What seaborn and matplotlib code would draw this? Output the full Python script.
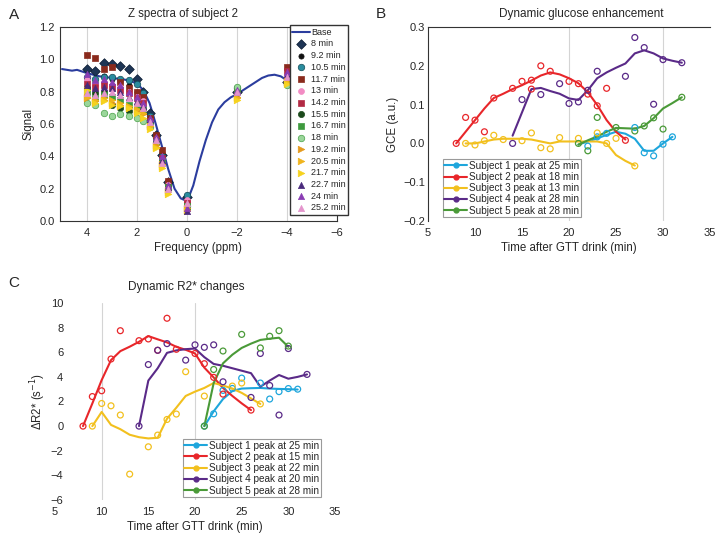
import matplotlib
matplotlib.use("Agg")
import matplotlib.pyplot as plt
from matplotlib.lines import Line2D
import seaborn as sns

# ---------------- Panel A data: Z spectra of subject 2 ----------------
base_freq = [5.0, 4.8, 4.6, 4.4, 4.2, 4.0, 3.75, 3.5, 3.25, 3.0, 2.75, 2.5, 2.25, 2.0,
             1.75, 1.5, 1.25, 1.0, 0.75, 0.5, 0.25, 0.1, 0.0, -0.1, -0.25, -0.5, -0.75,
             -1.0, -1.25, -1.5, -1.75, -2.0, -2.25, -2.5, -2.75, -3.0, -3.25, -3.5,
             -3.75, -4.0, -4.25, -4.5]
base_sig = [0.94, 0.935, 0.93, 0.935, 0.925, 0.915, 0.905, 0.895, 0.89, 0.885, 0.88, 0.875,
            0.865, 0.85, 0.81, 0.73, 0.60, 0.46, 0.32, 0.20, 0.14, 0.13, 0.135, 0.16, 0.22,
            0.37, 0.50, 0.61, 0.69, 0.735, 0.765, 0.785, 0.81, 0.835, 0.86, 0.885, 0.90,
            0.905, 0.895, 0.87, 0.86, 0.86]

a_freq = [4.0, 3.67, 3.33, 3.0, 2.67, 2.33, 2.0, 1.75, 1.5, 1.25, 1.0, 0.75, 0.0, -2.0, -4.0]
a_labels = ["8 min", "9.2 min", "10.5 min", "11.7 min", "13 min", "14.2 min", "15.5 min",
            "16.7 min", "18 min", "19.2 min", "20.5 min", "21.7 min", "22.7 min", "24 min",
            "25.2 min"]
sig_8 = [0.94, 0.93, 0.98, 0.97, 0.96, 0.94, 0.88, 0.80, 0.67, 0.53, 0.41, 0.24, 0.15, 0.80, 0.86]
sig_9 = [0.88, 0.86, 0.90, 0.88, 0.86, 0.84, 0.80, 0.76, 0.63, 0.52, 0.42, 0.22, 0.10, 0.81, 0.87]
sig_10 = [0.89, 0.88, 0.89, 0.89, 0.88, 0.87, 0.85, 0.79, 0.65, 0.52, 0.40, 0.23, 0.16, 0.82, 0.85]
sig_11 = [1.03, 1.01, 0.94, 0.95, 0.86, 0.82, 0.80, 0.77, 0.64, 0.53, 0.44, 0.25, 0.12, 0.80, 0.95]
sig_13 = [0.87, 0.84, 0.86, 0.84, 0.83, 0.80, 0.77, 0.74, 0.62, 0.51, 0.38, 0.22, 0.13, 0.79, 0.90]
sig_14 = [0.85, 0.83, 0.84, 0.83, 0.81, 0.79, 0.76, 0.73, 0.62, 0.50, 0.39, 0.21, 0.11, 0.80, 0.93]
sig_15 = [0.82, 0.79, 0.80, 0.72, 0.70, 0.68, 0.69, 0.69, 0.61, 0.50, 0.37, 0.21, 0.08, 0.79, 0.86]
sig_16 = [0.80, 0.76, 0.78, 0.77, 0.75, 0.72, 0.70, 0.69, 0.60, 0.49, 0.37, 0.21, 0.09, 0.80, 0.85]
sig_18 = [0.73, 0.72, 0.67, 0.65, 0.66, 0.65, 0.64, 0.62, 0.58, 0.48, 0.36, 0.20, 0.09, 0.83, 0.84]
sig_19 = [0.76, 0.74, 0.75, 0.73, 0.72, 0.70, 0.68, 0.66, 0.59, 0.47, 0.35, 0.19, 0.08, 0.77, 0.87]
sig_20 = [0.77, 0.75, 0.76, 0.75, 0.73, 0.71, 0.69, 0.67, 0.59, 0.46, 0.34, 0.18, 0.07, 0.76, 0.86]
sig_21 = [0.81, 0.73, 0.74, 0.72, 0.71, 0.70, 0.67, 0.64, 0.57, 0.45, 0.33, 0.17, 0.06, 0.75, 0.85]
sig_22 = [0.84, 0.82, 0.83, 0.82, 0.80, 0.77, 0.74, 0.71, 0.63, 0.51, 0.38, 0.21, 0.06, 0.80, 0.91]
sig_24 = [0.91, 0.87, 0.88, 0.86, 0.84, 0.80, 0.77, 0.73, 0.64, 0.52, 0.40, 0.22, 0.08, 0.81, 0.92]
sig_25 = [0.79, 0.78, 0.79, 0.80, 0.78, 0.76, 0.73, 0.70, 0.61, 0.50, 0.36, 0.20, 0.11, 0.80, 0.89]
a_series = [sig_8, sig_9, sig_10, sig_11, sig_13, sig_14, sig_15, sig_16, sig_18,
            sig_19, sig_20, sig_21, sig_22, sig_24, sig_25]

# marker styles for each time point
a_markers = ["D", "o", "o", "s", "o", "s", "o", "s", "o", ">", ">", ">", "^", "^", "^"]
a_colors = ["#1e3555", "#111111", "#2a8c9e", "#8a2a1c", "#f28cc4", "#b22a44", "#1c4a1c",
            "#3e9a3e", "#9ad69a", "#e59a1c", "#f0b41c", "#f6d21e", "#4a2a7c", "#8a3cb4",
            "#e494cc"]
a_edges = ["#0a1a30", "#111111", "#134b57", "#8a2a1c", "#f28cc4", "#b22a44", "#1c4a1c",
           "#3e9a3e", "#4aa04a", "#e59a1c", "#f0b41c", "#f6d21e", "#4a2a7c", "#8a3cb4",
           "#e494cc"]
a_sizes = [24, 14, 22, 20, 18, 14, 20, 18, 22, 22, 22, 22, 20, 20, 20]

# ---------------- Panel B data: dynamic glucose enhancement ----------------
subj_labels_b = ["Subject 1 peak at 25 min", "Subject 2 peak at 18 min",
                 "Subject 3 peak at 13 min", "Subject 4 peak at 28 min",
                 "Subject 5 peak at 28 min"]
b1_t = [21, 22, 23, 24, 25, 26, 27, 28, 29, 30, 31]
b1_line = [-0.003, 0.005, 0.013, 0.022, 0.03, 0.025, 0.012, -0.019, -0.019, 0.0, 0.017]
b1_pt_t = [22, 23, 24, 27, 28, 29, 30, 31]
b1_pt = [-0.007, 0.017, 0.026, 0.041, -0.024, -0.032, -0.002, 0.017]

b2_t = [8, 9, 10, 11, 12, 13, 14, 15, 16, 17, 18, 19, 20, 21, 22, 23, 24, 25, 26]
b2_line = [0.0, 0.03, 0.06, 0.09, 0.117, 0.128, 0.14, 0.15, 0.162, 0.175, 0.183, 0.178,
           0.168, 0.155, 0.132, 0.099, 0.06, 0.03, 0.01]
b2_pt_t = [8, 9, 10, 11, 12, 14, 15, 16, 16, 17, 18, 20, 21, 22, 23, 24, 26]
b2_pt = [0.0, 0.067, 0.06, 0.03, 0.117, 0.142, 0.16, 0.163, 0.14, 0.2, 0.186, 0.16,
         0.154, 0.127, 0.097, 0.142, 0.008]

b3_t = [9, 10, 11, 12, 13, 14, 15, 16, 17, 18, 19, 20, 21, 22, 23, 24, 25, 26, 27]
b3_line = [0.0, 0.0, 0.005, 0.01, 0.012, 0.012, 0.012, 0.01, 0.005, 0.0, 0.005, 0.005,
           0.005, 0.005, 0.005, 0.0, -0.03, -0.045, -0.057]
b3_pt_t = [9, 10, 11, 12, 13, 15, 16, 17, 18, 19, 21, 23, 24, 25, 27]
b3_pt = [0.0, -0.004, 0.007, 0.021, 0.01, 0.007, 0.027, -0.011, -0.014, 0.015, 0.013,
         0.027, 0.0, 0.013, -0.058]

b4_t = [14, 15, 16, 17, 18, 19, 20, 21, 22, 23, 24, 25, 26, 27, 28, 29, 30, 31, 32]
b4_line = [0.02, 0.08, 0.14, 0.143, 0.135, 0.128, 0.116, 0.112, 0.137, 0.168, 0.183,
           0.195, 0.206, 0.232, 0.24, 0.232, 0.219, 0.213, 0.208]
b4_pt_t = [14, 15, 17, 19, 20, 21, 22, 23, 26, 27, 28, 29, 30, 32]
b4_pt = [0.0, 0.113, 0.126, 0.154, 0.103, 0.107, 0.137, 0.186, 0.173, 0.273, 0.247,
         0.101, 0.216, 0.208]

b5_t = [21, 22, 23, 24, 25, 26, 27, 28, 29, 30, 31, 32]
b5_line = [-0.003, 0.008, 0.018, 0.03, 0.04, 0.039, 0.038, 0.045, 0.065, 0.09, 0.104, 0.119]
b5_pt_t = [21, 22, 23, 25, 27, 28, 29, 30, 32]
b5_pt = [0.0, -0.019, 0.067, 0.041, 0.032, 0.045, 0.066, 0.037, 0.119]

# ---------------- Panel C data: dynamic R2* changes ----------------
subj_labels_c = ["Subject 1 peak at 25 min", "Subject 2 peak at 15 min",
                 "Subject 3 peak at 22 min", "Subject 4 peak at 20 min",
                 "Subject 5 peak at 28 min"]
c1_t = [21, 22, 23, 24, 25, 26, 27, 28, 29, 30, 31]
c1_line = [0.0, 1.2, 2.2, 2.85, 3.05, 3.08, 3.1, 3.05, 3.02, 3.0, 2.97]
c1_pt_t = [21, 22, 23, 24, 25, 27, 28, 29, 30, 31]
c1_pt = [0.0, 1.0, 2.9, 3.06, 3.9, 3.5, 2.2, 2.8, 3.05, 3.0]

c2_t = [8, 9, 10, 11, 12, 13, 14, 15, 16, 17, 18, 19, 20, 21, 22, 23, 24, 25, 26]
c2_line = [0.0, 1.84, 3.74, 5.36, 6.09, 6.45, 6.85, 7.31, 7.05, 6.8, 6.44, 6.2, 5.9,
           4.75, 3.95, 3.1, 2.45, 1.85, 1.3]
c2_pt_t = [8, 9, 10, 11, 12, 14, 15, 16, 17, 18, 20, 21, 22, 23, 26]
c2_pt = [0.0, 2.4, 2.87, 5.45, 7.75, 6.94, 7.08, 6.16, 8.76, 6.24, 5.9, 5.07, 3.96, 2.6, 1.3]

c3_t = [9, 10, 11, 12, 13, 14, 15, 16, 17, 18, 19, 20, 21, 22, 23, 24, 25, 26, 27]
c3_line = [0.0, 1.15, 0.1, -0.25, -0.7, -0.9, -1.0, -0.95, 0.6, 1.5, 2.45, 2.8, 3.1,
           3.5, 3.3, 3.05, 2.7, 2.25, 1.8]
c3_pt_t = [9, 10, 11, 12, 13, 15, 16, 17, 18, 19, 21, 24, 25, 27]
c3_pt = [0.0, 1.84, 1.65, 0.9, -3.9, -1.68, -0.73, 0.54, 0.98, 4.42, 2.44, 3.25, 3.5, 1.8]

c4_t = [14, 15, 16, 17, 18, 19, 20, 21, 22, 23, 24, 25, 26, 27, 28, 29, 30, 31, 32]
c4_line = [0.0, 3.7, 4.7, 5.95, 6.15, 6.25, 6.3, 5.6, 5.05, 4.9, 4.7, 4.5, 4.3, 3.2,
           3.7, 4.15, 3.85, 4.0, 4.2]
c4_pt_t = [14, 15, 16, 17, 19, 20, 21, 22, 23, 26, 27, 28, 29, 30, 32]
c4_pt = [0.0, 5.0, 6.16, 6.7, 5.36, 6.6, 6.4, 6.6, 3.6, 2.33, 5.9, 3.3, 0.9, 6.3, 4.2]

c5_t = [21, 22, 23, 24, 25, 26, 27, 28, 29, 30]
c5_line = [0.0, 3.5, 5.1, 5.8, 6.35, 6.7, 7.0, 7.1, 7.18, 6.44]
c5_pt_t = [21, 22, 23, 25, 27, 28, 29, 30]
c5_pt = [0.0, 4.6, 6.1, 7.45, 6.35, 7.3, 7.75, 6.5]

subj_colors = ["#1ea6dc", "#e8262a", "#f2c01e", "#5a2a88", "#4a9a38"]

# ---------------- styling ----------------
sns.set_theme(style="white")
plt.rcParams["font.family"] = ["Liberation Sans", "DejaVu Sans"]
plt.rcParams["axes.unicode_minus"] = True

fig = plt.figure(figsize=(7.18, 5.34), dpi=100)
grid_col = "#d4d4d4"
spine_col = "#333333"

# ---------------- Panel A ----------------
axA = fig.add_axes([0.0829, 0.5861, 0.3865, 0.3633])
for xg in [4, 2, 0, -2, -4]:
    axA.axvline(xg, color=grid_col, lw=0.8, zorder=0)
sns.lineplot(x=base_freq, y=base_sig, ax=axA, color="#2b3d9e", lw=1.5, sort=False,
             estimator=None, label="Base", zorder=3)
for lab, vals, m, c, ec, s in zip(a_labels, a_series, a_markers, a_colors, a_edges, a_sizes):
    sns.scatterplot(x=a_freq, y=vals, ax=axA, marker=m, color=c, edgecolor=ec, s=s,
                    linewidth=0.5, label=lab, zorder=4)
axA.set_xlim(5.1, -6.0)
axA.set_ylim(0, 1.2)
axA.set_xticks([4, 2, 0, -2, -4, -6])
axA.set_yticks([0, 0.2, 0.4, 0.6, 0.8, 1.0, 1.2])
axA.set_yticklabels(["0.0", "0.2", "0.4", "0.6", "0.8", "1.0", "1.2"])
axA.set_title("Z spectra of subject 2", fontsize=8.3, pad=7, x=0.444)
axA.set_xlabel("Frequency (ppm)", fontsize=8.3, labelpad=3)
axA.set_ylabel("Signal", fontsize=8.3, labelpad=3)
axA.tick_params(axis="both", labelsize=8, length=0)
axA.tick_params(axis="x", pad=5)
axA.tick_params(axis="y", pad=3.5)
for sp in axA.spines.values():
    sp.set_color(spine_col)
    sp.set_linewidth(0.8)
legA = axA.legend(loc="upper left", bbox_to_anchor=(0.83, 1.008), fontsize=6.5,
                  frameon=True, fancybox=False, framealpha=1, edgecolor="#333333",
                  labelspacing=0.3, handlelength=2.0, handletextpad=0.1,
                  borderpad=0.25, borderaxespad=0, scatterpoints=1)
legA.get_frame().set_linewidth(1.0)

# ---------------- helper for B and C ----------------
def draw_subjects(ax, lines, points):
    for (t, v), (pt, pv), c in zip(lines, points, subj_colors):
        sns.lineplot(x=t, y=v, ax=ax, color=c, lw=1.5, sort=False, estimator=None, zorder=3)
        sns.scatterplot(x=pt, y=pv, ax=ax, facecolor="none", edgecolor=c, s=18,
                        linewidth=0.9, zorder=4)


def subject_legend(ax, labels, anchor, loc):
    handles = [Line2D([0], [0], color=c, lw=1.5, marker="o", markersize=3.5,
                      markerfacecolor=c, markeredgecolor=c) for c in subj_colors]
    leg = ax.legend(handles, labels, loc=loc, bbox_to_anchor=anchor, fontsize=7.2,
                    frameon=True, fancybox=False, framealpha=1, edgecolor="#9a9a9a",
                    labelspacing=0.12, handlelength=2.3, handletextpad=0.15,
                    borderpad=0.15, borderaxespad=0)
    leg.get_frame().set_linewidth(0.8)

# ---------------- Panel B ----------------
axB = fig.add_axes([0.5961, 0.5861, 0.3928, 0.3633])
for xg in [20, 30]:
    axB.axvline(xg, color=grid_col, lw=0.8, zorder=0)
draw_subjects(axB,
              [(b1_t, b1_line), (b2_t, b2_line), (b3_t, b3_line), (b4_t, b4_line), (b5_t, b5_line)],
              [(b1_pt_t, b1_pt), (b2_pt_t, b2_pt), (b3_pt_t, b3_pt), (b4_pt_t, b4_pt), (b5_pt_t, b5_pt)])
axB.set_xlim(5, 35)
axB.set_ylim(-0.2, 0.3)
axB.set_xticks([5, 10, 15, 20, 25, 30, 35])
axB.set_yticks([-0.2, -0.1, 0.0, 0.1, 0.2, 0.3])
axB.set_yticklabels(["\u22120.2", "\u22120.1", "0.0", "0.1", "0.2", "0.3"])
axB.set_title("Dynamic glucose enhancement", fontsize=8.5, pad=7, x=0.543)
axB.set_xlabel("Time after GTT drink (min)", fontsize=8.3, labelpad=3)
axB.set_ylabel("GCE (a.u.)", fontsize=8.3, labelpad=3)
axB.tick_params(axis="both", labelsize=8, length=0)
axB.tick_params(axis="x", pad=5)
axB.tick_params(axis="y", pad=2)
axB.spines["right"].set_visible(False)
axB.spines["bottom"].set_visible(False)
for sp in ["left", "top"]:
    axB.spines[sp].set_color(spine_col)
    axB.spines[sp].set_linewidth(0.8)
subject_legend(axB, subj_labels_b, (0.053, 0.02), "lower left")

# ---------------- Panel C ----------------
axC = fig.add_axes([0.0766, 0.0637, 0.39, 0.3689])
for xg in [10, 20]:
    axC.axvline(xg, color=grid_col, lw=0.8, zorder=0)
draw_subjects(axC,
              [(c1_t, c1_line), (c2_t, c2_line), (c3_t, c3_line), (c4_t, c4_line), (c5_t, c5_line)],
              [(c1_pt_t, c1_pt), (c2_pt_t, c2_pt), (c3_pt_t, c3_pt), (c4_pt_t, c4_pt), (c5_pt_t, c5_pt)])
axC.set_xlim(5, 35)
axC.set_ylim(-6, 10)
axC.set_xticks([5, 10, 15, 20, 25, 30, 35])
axC.set_yticks([-6, -4, -2, 0, 2, 4, 6, 8, 10])
axC.set_title("Dynamic R2* changes", fontsize=8.5, pad=9, x=0.47)
axC.set_xlabel("Time after GTT drink (min)", fontsize=8.3, labelpad=3)
axC.set_ylabel("\u0394R2* (s$^{-1}$)", fontsize=8.3, labelpad=2)
axC.tick_params(axis="both", labelsize=8, length=0)
axC.tick_params(axis="x", pad=5)
axC.tick_params(axis="y", pad=-6)
for sp in axC.spines.values():
    sp.set_visible(False)
subject_legend(axC, subj_labels_c, (0.457, 0.015), "lower left")

# panel letters
fig.text(0.012, 0.972, "A", fontsize=11, va="center", ha="left")
fig.text(0.524, 0.974, "B", fontsize=11, va="center", ha="left")
fig.text(0.012, 0.470, "C", fontsize=11, va="center", ha="left")

fig.savefig("out.png", dpi=100)
